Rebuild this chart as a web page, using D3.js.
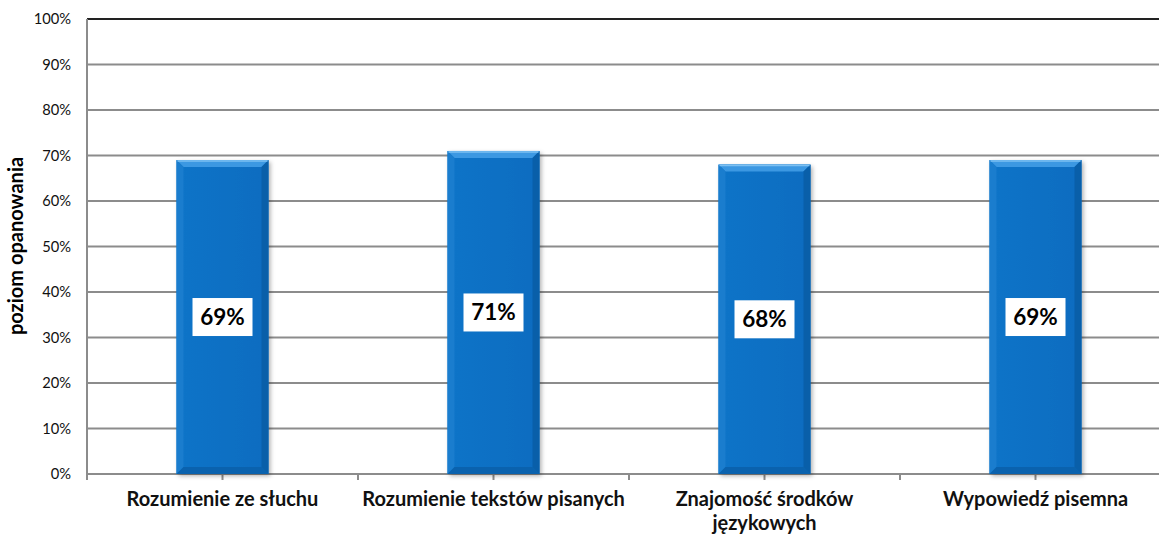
<!DOCTYPE html>
<html>
<head>
<meta charset="utf-8">
<script src="https://cdn.jsdelivr.net/npm/d3@7"></script>
<style>
  body { margin: 0; background: #fff; }
  text { font-family: Lato, "Open Sans", sans-serif; }
</style>
</head>
<body>
<div id="chart"></div>
<script>
// data
const categories = ["Rozumienie ze słuchu", "Rozumienie tekstów pisanych", "Znajomość środków|językowych", "Wypowiedź pisemna"];
const values = [0.69, 0.71, 0.68, 0.69];
const yTicks = [0, 0.1, 0.2, 0.3, 0.4, 0.5, 0.6, 0.7, 0.8, 0.9, 1];

const width = 1159, height = 537;
const margin = { left: 87, top: 19, bottom: 63 };
const plotRight = 1171;

const svg = d3.select("#chart")
    .append("svg")
    .attr("width", width)
    .attr("height", height);

const x = d3.scaleBand().domain(categories).range([margin.left, plotRight]).paddingInner(0).paddingOuter(0);
const y = d3.scaleLinear().domain([0, 1]).range([height - margin.bottom, margin.top]);

const defs = svg.append("defs");
const grad = defs.append("linearGradient").attr("id", "barFill")
    .attr("x1", 0).attr("x2", 1).attr("y1", 0).attr("y2", 0);
grad.append("stop").attr("offset", "0%").attr("stop-color", "#0c74c8");
grad.append("stop").attr("offset", "100%").attr("stop-color", "#086cc0");
const shadow = defs.append("filter").attr("id", "shadow").attr("x", "-20%").attr("y", "-10%").attr("width", "140%").attr("height", "120%");
shadow.append("feDropShadow").attr("dx", 2).attr("dy", 2).attr("stdDeviation", 2).attr("flood-color", "#000").attr("flood-opacity", 0.3);

// gridlines
svg.append("g").selectAll("line")
    .data(yTicks.slice(1))
    .enter()
    .append("line")
    .attr("x1", margin.left).attr("x2", width)
    .attr("y1", d => y(d)).attr("y2", d => y(d))
    .style("stroke", d => d === 1 ? "#222" : "#8c8c8c")
    .style("stroke-width", 2);

// y tick labels
svg.append("g").selectAll("text")
    .data(yTicks)
    .enter()
    .append("text")
    .attr("x", 71).attr("y", d => y(d) + 5)
    .attr("text-anchor", "end")
    .style("font-size", "14.7px")
    .style("fill", "#111")
    .text(d => d3.format(".0%")(d));

// axes
svg.append("line")
    .attr("x1", margin.left).attr("x2", margin.left)
    .attr("y1", y(1)).attr("y2", y(0) + 6)
    .style("stroke", "#8c8c8c").style("stroke-width", 2);
svg.append("line")
    .attr("x1", margin.left).attr("x2", width)
    .attr("y1", y(0)).attr("y2", y(0))
    .style("stroke", "#8c8c8c").style("stroke-width", 2);

// x ticks at category centres and boundaries
const xTickPos = [];
categories.forEach(c => {
    xTickPos.push(x(c) + x.bandwidth() / 2);
    xTickPos.push(x(c) + x.bandwidth());
});
svg.append("g").selectAll("line")
    .data(xTickPos)
    .enter()
    .append("line")
    .attr("x1", d => d).attr("x2", d => d)
    .attr("y1", y(0)).attr("y2", y(0) + 6)
    .style("stroke", "#8c8c8c").style("stroke-width", 2);

// bars
const barW = 92;
const bars = svg.append("g").selectAll("g")
    .data(categories)
    .enter()
    .append("g")
    .attr("transform", d => `translate(${x(d) + x.bandwidth() / 2 - barW / 2}, 0)`);

bars.append("rect")
    .attr("x", 0).attr("width", barW)
    .attr("y", (d, i) => y(values[i]))
    .attr("height", (d, i) => y(0) - y(values[i]))
    .attr("fill", "url(#barFill)")
    .attr("filter", "url(#shadow)");

// bevel: top lighter, right darker, left slightly light, bottom darker
const bev = 7;
bars.append("polygon")
    .attr("points", (d, i) => {
        const t = y(values[i]);
        return `0,${t} ${barW},${t} ${barW - bev},${t + bev} ${bev},${t + bev}`;
    })
    .attr("fill", "#3c98e2");
bars.append("polygon")
    .attr("points", (d, i) => {
        const t = y(values[i]), b = y(0);
        return `${barW},${t} ${barW},${b} ${barW - bev},${b - bev} ${barW - bev},${t + bev}`;
    })
    .attr("fill", "#095fa9");
bars.append("polygon")
    .attr("points", (d, i) => {
        const t = y(values[i]), b = y(0);
        return `0,${t} ${bev},${t + bev} ${bev},${b - bev} 0,${b}`;
    })
    .attr("fill", "#1a7dce");
bars.append("polygon")
    .attr("points", (d, i) => {
        const b = y(0);
        return `0,${b} ${barW},${b} ${barW - bev},${b - bev} ${bev},${b - bev}`;
    })
    .attr("fill", "#0a62ae");
bars.append("line")
    .attr("x1", 1).attr("x2", barW - 1)
    .attr("y1", (d, i) => y(values[i]) + 1).attr("y2", (d, i) => y(values[i]) + 1)
    .style("stroke", "#7cc0f2").style("stroke-width", 1.5);

// value labels
const boxW = 60, boxH = 38;
bars.append("rect")
    .attr("x", barW / 2 - boxW / 2)
    .attr("y", (d, i) => (y(values[i]) + y(0)) / 2 - boxH / 2)
    .attr("width", boxW).attr("height", boxH)
    .attr("fill", "#fff");
bars.append("text")
    .attr("x", barW / 2)
    .attr("y", (d, i) => (y(values[i]) + y(0)) / 2 + 8)
    .attr("text-anchor", "middle")
    .style("font-size", "22.5px")
    .style("font-weight", "bold")
    .style("fill", "#000")
    .text((d, i) => d3.format(".0%")(values[i]));

// category labels
svg.append("g").selectAll("text")
    .data(categories)
    .enter()
    .append("text")
    .attr("x", d => x(d) + x.bandwidth() / 2)
    .attr("y", 506)
    .attr("text-anchor", "middle")
    .style("font-size", "20px")
    .style("font-weight", "bold")
    .style("fill", "#111")
    .each(function (d) {
        const lines = d.split("|");
        const t = d3.select(this);
        lines.forEach((l, k) => {
            t.append("tspan").attr("x", x(d) + x.bandwidth() / 2).attr("dy", k === 0 ? 0 : 24).text(l);
        });
    });

// y axis title
svg.append("text")
    .attr("transform", "translate(23, 246) rotate(-90)")
    .attr("text-anchor", "middle")
    .style("font-size", "20px")
    .style("font-weight", "bold")
    .style("fill", "#000")
    .text("poziom opanowania");
</script>
</body>
</html>
